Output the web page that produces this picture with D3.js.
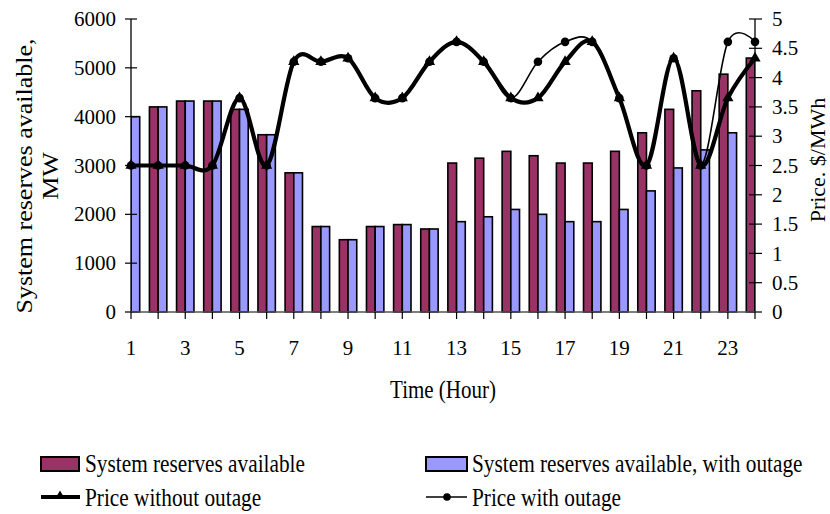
<!DOCTYPE html>
<html>
<head>
<meta charset="utf-8">
<script src="https://cdn.jsdelivr.net/npm/d3@7"></script>
<style>
  html, body { margin: 0; padding: 0; background: #fff; }
  svg { display: block; }
  text { font-family: "Liberation Serif", "Times New Roman", serif; fill: #000; }
</style>
</head>
<body>
<svg id="chart" width="830" height="514"></svg>
<script>
// ---- data ----
const hours = [1,2,3,4,5,6,7,8,9,10,11,12,13,14,15,16,17,18,19,20,21,22,23,24];
const reserves = [4000,4200,4320,4320,4150,3630,2850,1750,1480,1750,1790,1700,3050,3150,3290,3200,3050,3050,3290,3670,4150,4530,4870,5200];
const reservesOutage = [4000,4200,4320,4320,4150,3630,2850,1750,1480,1750,1790,1700,1850,1950,2100,2000,1850,1850,2100,2480,2950,3320,3670,3700];
const priceWithout = [2.5,2.5,2.5,2.5,3.65,2.5,4.27,4.27,4.33,3.65,3.65,4.27,4.61,4.27,3.65,3.65,4.27,4.61,3.65,2.5,4.33,2.5,3.65,4.33];
const priceWith = [2.5,2.5,2.5,2.5,3.65,2.5,4.27,4.27,4.33,3.65,3.65,4.27,4.61,4.27,3.65,4.27,4.61,4.61,3.65,2.5,4.33,2.5,4.61,4.61];
const leftTicks = [0,1000,2000,3000,4000,5000,6000];
const rightTicks = [0,0.5,1,1.5,2,2.5,3,3.5,4,4.5,5];
const xTickLabels = [1,3,5,7,9,11,13,15,17,19,21,23];
const seriesNames = ["System reserves available","System reserves available, with outage","Price without outage","Price with outage"];

// ---- layout ----
const svg = d3.select("#chart");
const X0 = 131, X1 = 755, Y0 = 312, Y1 = 19;
const x = d3.scaleLinear().domain([1,24]).range([X0,X1]);
const yL = d3.scaleLinear().domain([0,6000]).range([Y0,Y1]);
const yR = d3.scaleLinear().domain([0,5]).range([Y0,Y1]);
const barW = 8.7;
const RED = "#993366", BLUE = "#9999FF";

svg.append("defs").append("clipPath").attr("id","plotclip")
  .append("rect").attr("x",X0).attr("y",0).attr("width",X1-X0).attr("height",Y0+2);

// bars
const bars = svg.append("g").attr("clip-path","url(#plotclip)");
bars.selectAll("rect.r").data(hours).enter().append("rect")
  .attr("x", (d,i)=>x(d)-barW).attr("y",(d,i)=>yL(reserves[i]))
  .attr("width",barW).attr("height",(d,i)=>Y0-yL(reserves[i]))
  .attr("fill",RED).attr("stroke","#000").attr("stroke-width",1.6);
bars.selectAll("rect.b").data(hours).enter().append("rect")
  .attr("x", (d,i)=>x(d)).attr("y",(d,i)=>yL(reservesOutage[i]))
  .attr("width",barW).attr("height",(d,i)=>Y0-yL(reservesOutage[i]))
  .attr("fill",BLUE).attr("stroke","#000").attr("stroke-width",1.6);

// axes
const fs = 21;
const gL = svg.append("g");
gL.append("line").attr("x1",X0).attr("x2",X0).attr("y1",Y1).attr("y2",Y0).attr("stroke","#000").attr("stroke-width",1.3);
leftTicks.forEach(t=>{
  gL.append("line").attr("x1",X0-6).attr("x2",X0+6).attr("y1",yL(t)).attr("y2",yL(t)).attr("stroke","#000").attr("stroke-width",1.2);
  gL.append("text").attr("x",X0-15).attr("y",yL(t)).attr("dy","0.34em").attr("text-anchor","end")
    .style("font-size",fs+"px").text(t);
});
const gR = svg.append("g");
gR.append("line").attr("x1",X1).attr("x2",X1).attr("y1",Y1).attr("y2",Y0).attr("stroke","#000").attr("stroke-width",1.3);
rightTicks.forEach(t=>{
  gR.append("line").attr("x1",X1-6).attr("x2",X1+7).attr("y1",yR(t)).attr("y2",yR(t)).attr("stroke","#000").attr("stroke-width",1.2);
  gR.append("text").attr("x",X1+17).attr("y",yR(t)).attr("dy","0.34em").attr("text-anchor","start")
    .style("font-size",fs+"px").text(t);
});
const gX = svg.append("g");
gX.append("line").attr("x1",X0).attr("x2",X1).attr("y1",Y0).attr("y2",Y0).attr("stroke","#555").attr("stroke-width",1.3);
hours.forEach(h=>{
  gX.append("line").attr("x1",x(h)).attr("x2",x(h)).attr("y1",Y0).attr("y2",Y0+7).attr("stroke","#000").attr("stroke-width",1.2);
});
xTickLabels.forEach(h=>{
  gX.append("text").attr("x",x(h)).attr("y",355).attr("text-anchor","middle").style("font-size",fs+"px").text(h);
});

// price lines
const line = (arr)=>d3.line().x((d,i)=>x(hours[i])).y(d=>yR(d)).curve(d3.curveCardinal.tension(0))(arr);
svg.append("path").attr("d",line(priceWithout)).attr("fill","none").attr("stroke","#000").attr("stroke-width",4.2).attr("stroke-linejoin","round");
svg.append("path").attr("d",line(priceWith)).attr("fill","none").attr("stroke","#000").attr("stroke-width",1.6);
const tri = d3.symbol().type(d3.symbolTriangle).size(55);
svg.selectAll("path.tri").data(priceWithout).enter().append("path")
  .attr("d",tri()).attr("transform",(d,i)=>`translate(${x(hours[i])},${yR(d)})`).attr("fill","#000");
svg.selectAll("circle.dot").data(priceWith).enter().append("circle")
  .attr("cx",(d,i)=>x(hours[i])).attr("cy",d=>yR(d)).attr("r",4.3).attr("fill","#000");

// titles
svg.append("text").attr("transform","translate(443,398) scale(1,1.15)").attr("text-anchor","middle")
  .style("font-size","21px").text("Time (Hour)");
const lt = svg.append("text").attr("transform","translate(32,176) rotate(-90) scale(1,0.86)").attr("text-anchor","middle")
  .style("font-size","26px");
lt.append("tspan").attr("x",0).attr("y",0).text("System reserves available,");
lt.append("tspan").attr("x",0).attr("y",30).text("MW");
svg.append("text").attr("transform","translate(825,160) rotate(-90)").attr("text-anchor","middle")
  .style("font-size","22px").text("Price. $/MWh");

// legend
const lg = svg.append("g");
lg.append("rect").attr("x",41).attr("y",457).attr("width",38).attr("height",14).attr("fill",RED).attr("stroke","#000").attr("stroke-width",2);
lg.append("rect").attr("x",426).attr("y",457).attr("width",41).attr("height",14).attr("fill",BLUE).attr("stroke","#000").attr("stroke-width",2);
lg.append("line").attr("x1",41).attr("x2",80).attr("y1",497).attr("y2",497).attr("stroke","#000").attr("stroke-width",4);
lg.append("path").attr("d",d3.symbol().type(d3.symbolTriangle).size(40)()).attr("transform","translate(60,496)").attr("fill","#000");
lg.append("line").attr("x1",426).attr("x2",467).attr("y1",497).attr("y2",497).attr("stroke","#000").attr("stroke-width",1.6);
lg.append("circle").attr("cx",447).attr("cy",497).attr("r",3.8).attr("fill","#000");
const legPos = [[85,472],[472,472],[85,506],[472,506]];
seriesNames.forEach((n,i)=>{
  lg.append("text").attr("transform",`translate(${legPos[i][0]},${legPos[i][1]}) scale(1,1.22)`)
    .style("font-size","21.3px").text(n);
});
</script>
</body>
</html>
